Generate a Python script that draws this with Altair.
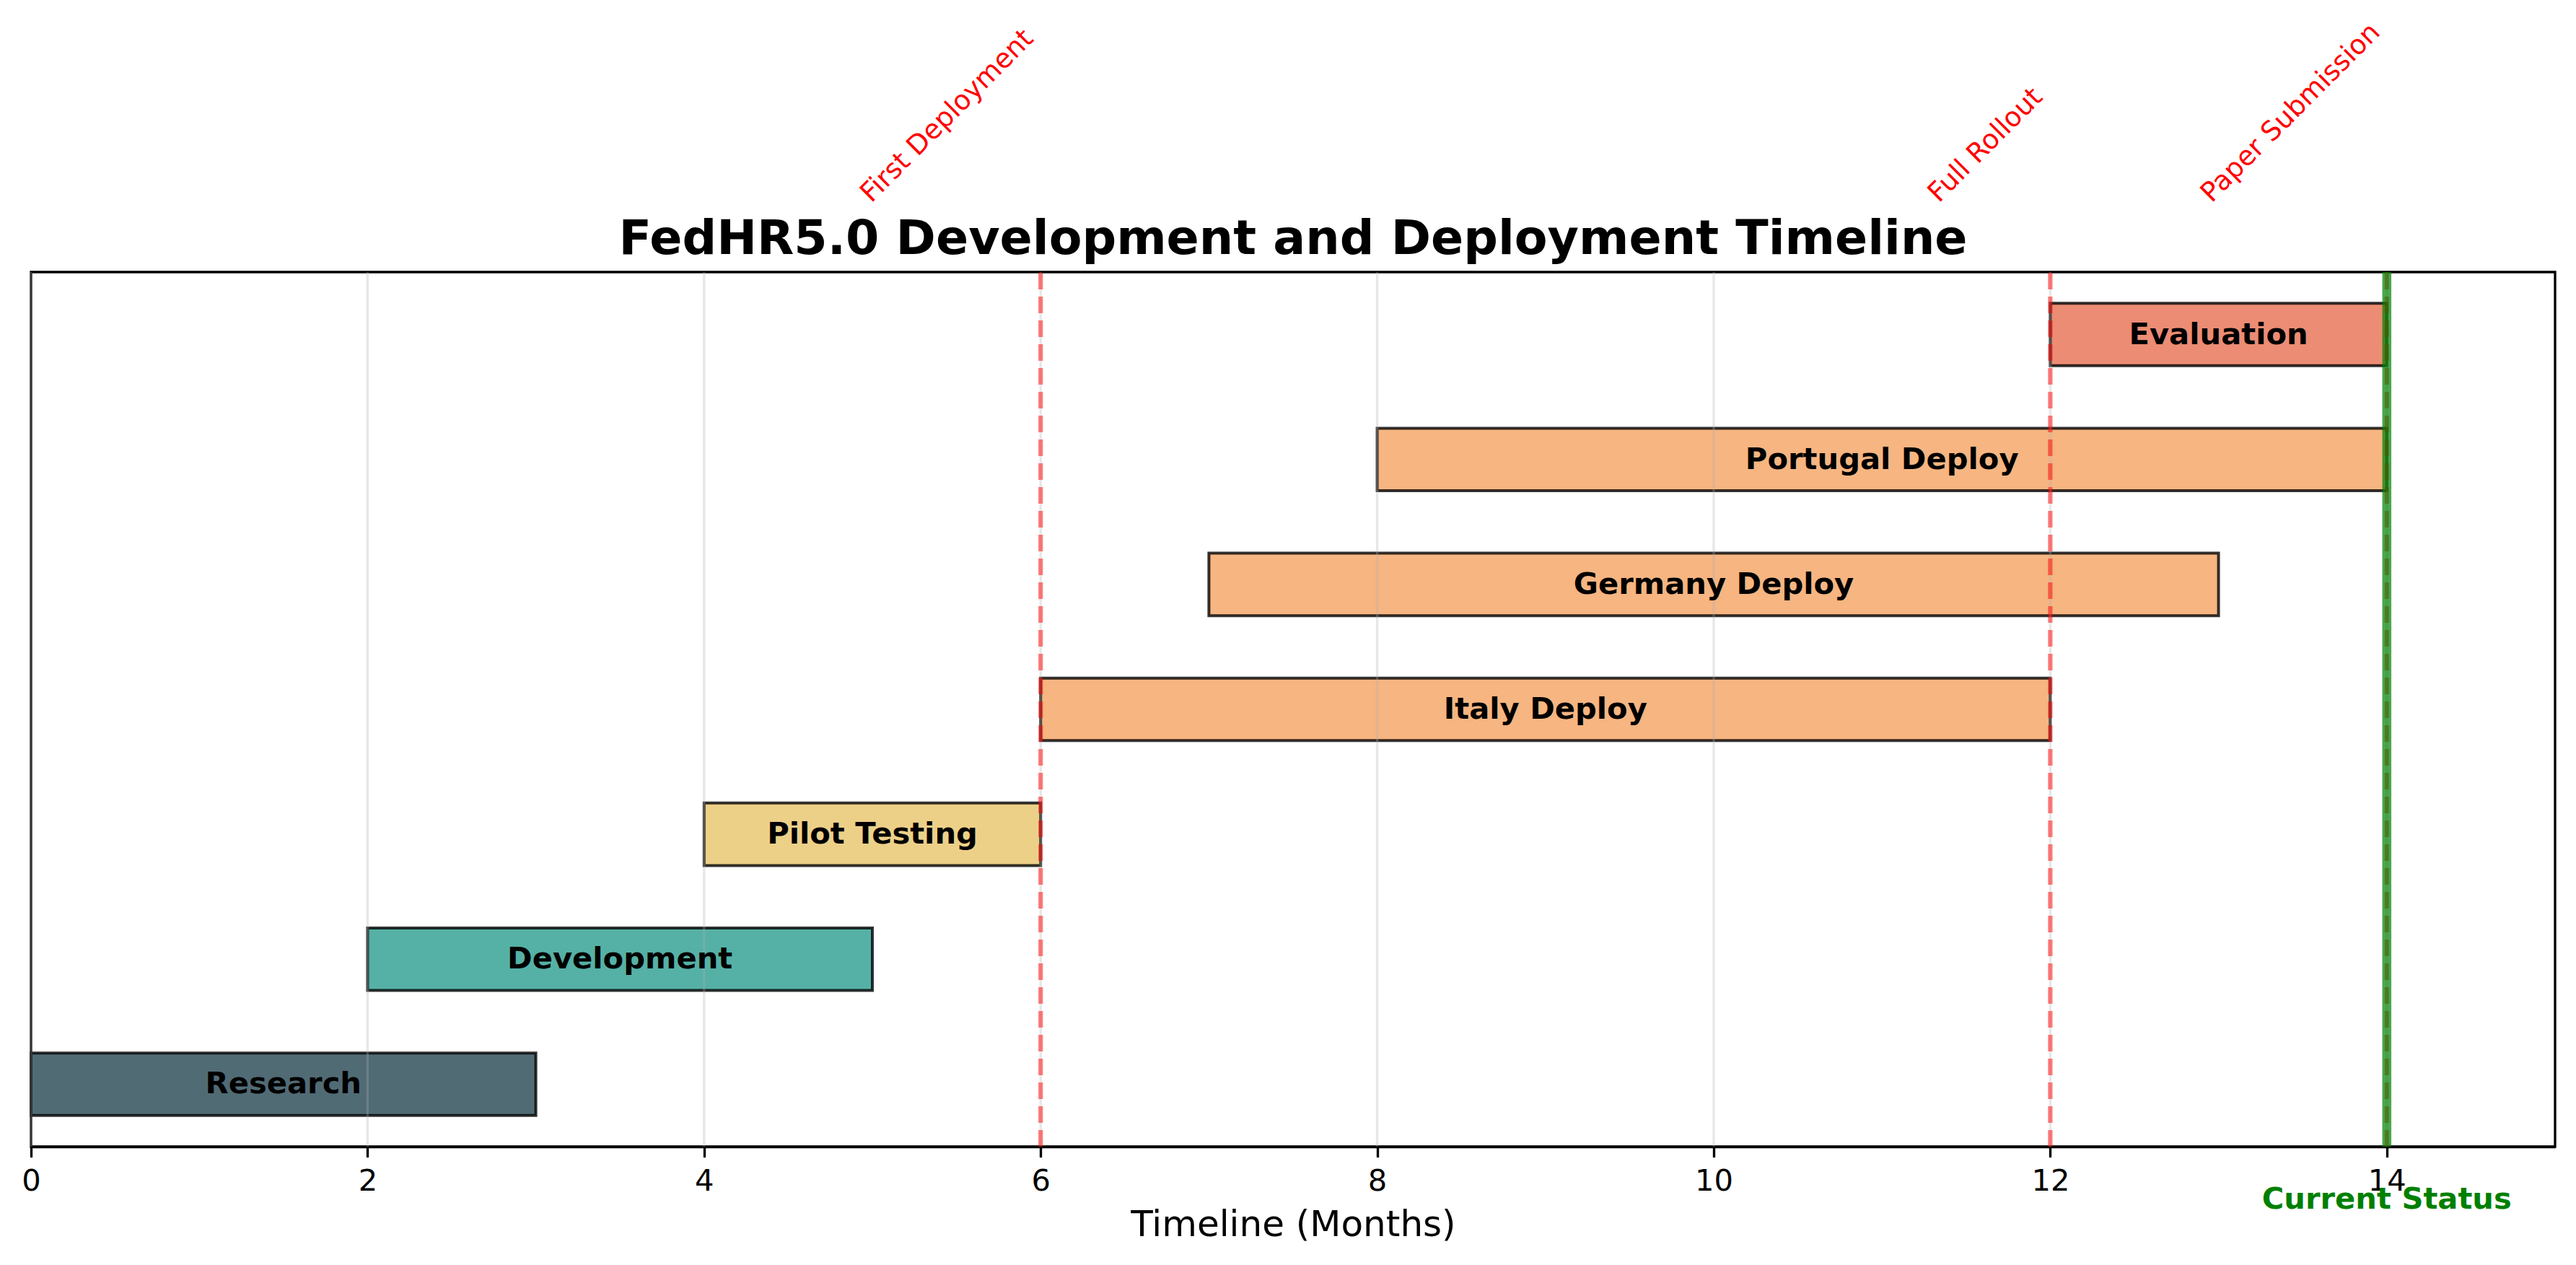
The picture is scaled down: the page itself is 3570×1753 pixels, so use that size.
import altair as alt
import pandas as pd

# ---------------- data ----------------
phases = ["Research", "Development", "Pilot Testing", "Italy Deploy",
          "Germany Deploy", "Portugal Deploy", "Evaluation"]
starts = [0, 2, 4, 6, 7, 8, 12]
ends = [3, 5, 6, 12, 13, 14, 14]
colors = ["#264653", "#2a9d8f", "#e9c46a", "#f4a261", "#f4a261", "#f4a261", "#e76f51"]

milestone_names = ["First Deployment", "Full Rollout", "Paper Submission"]
milestone_months = [6, 12, 14]

current_label = ["Current Status"]
current_month = [14]

x_ticks = [0, 2, 4, 6, 8, 10, 12, 14]
x_domain = [0, 15]

title_text = "FedHR5.0 Development and Deployment Timeline"
x_title = "Timeline (Months)"

# ---------------- sizes ----------------
PT = 300 / 72.0
W, H = 3498, 1212
FONT = "DejaVu Sans"

# DejaVu Sans advance widths (em) for width estimate of rotated labels
ADV = {" ": 0.318, "F": 0.575, "i": 0.278, "r": 0.411, "s": 0.521, "t": 0.392,
       "D": 0.770, "e": 0.615, "p": 0.635, "l": 0.278, "o": 0.612, "y": 0.592,
       "m": 0.974, "n": 0.634, "u": 0.634, "R": 0.695, "P": 0.603, "a": 0.613,
       "S": 0.635, "b": 0.635}


def text_width(s, size):
    return sum(ADV.get(c, 0.6) for c in s) * size


bars_df = pd.DataFrame({"phase": phases, "start": starts, "end": ends})
ms_df = pd.DataFrame({"name": milestone_names, "month": milestone_months})
cur_df = pd.DataFrame({"label": current_label, "month": current_month})
grid_df = pd.DataFrame({"t": x_ticks})

x_scale = alt.Scale(domain=x_domain, nice=False, zero=False)
y_enc = alt.Y("phase:N", sort=list(reversed(phases)), axis=None,
              scale=alt.Scale(paddingInner=0.5, paddingOuter=0.25))

x_axis = alt.Axis(values=x_ticks, title=x_title, grid=False, format="d",
                  labelFontSize=10 * PT, titleFontSize=12 * PT,
                  titleFontWeight="normal", labelFont=FONT, titleFont=FONT,
                  tickSize=3.5 * PT, tickWidth=0.8 * PT, domainWidth=0.8 * PT,
                  domainColor="black", tickColor="black", labelColor="black",
                  titleColor="black", labelPadding=13, titlePadding=14,
                  labelFlush=False, labelOverlap=False)

bars = alt.Chart(bars_df).mark_bar(
    fillOpacity=0.8, stroke="black", strokeOpacity=0.8, strokeWidth=4
).encode(
    x=alt.X("start:Q", scale=x_scale, axis=x_axis),
    x2="end:Q",
    y=y_enc,
    color=alt.Color("phase:N", scale=alt.Scale(domain=phases, range=colors), legend=None),
)

grid = alt.Chart(grid_df).mark_rule(color="#b0b0b0", opacity=0.3, strokeWidth=0.8 * PT).encode(
    x=alt.X("t:Q", scale=x_scale, title=x_title),
    y=alt.value(H), y2=alt.value(0),
)

labels = alt.Chart(bars_df).transform_calculate(
    mid="(datum.start + datum.end) / 2"
).mark_text(fontWeight="bold", fontSize=10 * PT, font=FONT, color="black",
            align="center", baseline="middle").encode(
    x=alt.X("mid:Q", scale=x_scale, title=x_title),
    y=y_enc,
    text="phase:N",
)

ms_rules = alt.Chart(ms_df).mark_rule(
    color="red", opacity=0.5, strokeWidth=1.5 * PT, strokeDash=[23, 10]
).encode(
    x=alt.X("month:Q", scale=x_scale, title=x_title),
    y=alt.value(H), y2=alt.value(0),
)

cur_rule = alt.Chart(cur_df).mark_rule(
    color="green", opacity=0.7, strokeWidth=3 * PT
).encode(
    x=alt.X("month:Q", scale=x_scale, title=x_title),
    y=alt.value(H), y2=alt.value(0),
)

cur_text = alt.Chart(cur_df).mark_text(
    fontWeight="bold", fontSize=10 * PT, font=FONT, color="green",
    align="center", baseline="alphabetic"
).encode(
    x=alt.X("month:Q", scale=x_scale, title=x_title),
    y=alt.value(H + 86),
    text="label:N",
)

ms_size = 9 * PT
desc = 0.236 * ms_size * 0.7071
ms_layers = []
for name, month in zip(milestone_names, milestone_months):
    w = text_width(name, ms_size)
    off = (-desc - 0.7071 * w) / 1.4142
    one = ms_df[ms_df["name"] == name]
    ms_layers.append(
        alt.Chart(one).mark_text(
            fontSize=ms_size, font=FONT, color="red", angle=315,
            align="left", baseline="alphabetic", dx=off, dy=off
        ).encode(
            x=alt.X("month:Q", scale=x_scale, title=x_title),
            y=alt.value(-95),
            text="name:N",
        )
    )

title_mark = alt.Chart(pd.DataFrame({"t": [title_text]})).mark_text(
    fontWeight="bold", fontSize=16 * PT, font=FONT, color="black",
    align="center", baseline="alphabetic"
).encode(
    x=alt.value(W / 2), y=alt.value(-25), text="t:N"
)

chart = alt.layer(
    bars, grid, labels, ms_rules, cur_rule, cur_text, *ms_layers, title_mark
).properties(
    width=W, height=H,
    autosize=alt.AutoSizeParams(type="none"),
    padding={"left": 43, "top": 377, "right": 29, "bottom": 164},
    background="white",
).configure(
    font=FONT,
    view=alt.ViewConfig(stroke="black", strokeWidth=0.8 * PT),
)

chart.save("out.html", embed_options={"renderer": "svg", "actions": False})
